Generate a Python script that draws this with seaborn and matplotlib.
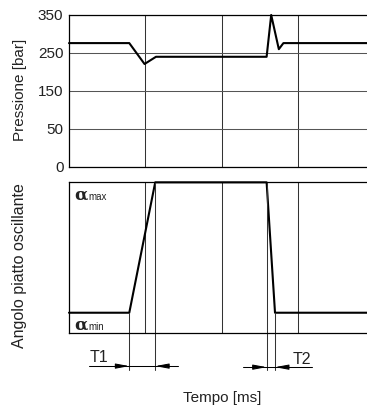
import numpy as np
import matplotlib
matplotlib.use("Agg")
import matplotlib.pyplot as plt
import matplotlib.transforms as mtransforms
import seaborn as sns

# pressure trace (bar) vs time (schematic units, one grid cell = 1)
t_press = [0, 0.79, 0.99, 1.14, 2.59, 2.65, 2.75, 2.81, 3.95]
pressure = [276, 276, 221, 240, 240, 350, 260, 276, 276]
press_ticks = [0, 50, 150, 250, 350]

# swash plate angle (0 = alpha min, 1 = alpha max)
t_angle = [0, 0.79, 1.13, 2.59, 2.70, 3.95]
angle = [0, 0, 1, 1, 0, 0]

t1 = (0.79, 1.13)
t2 = (2.59, 2.70)

sns.set_style("white")
plt.rcParams["font.family"] = ["Liberation Sans", "DejaVu Sans"]
ink = "#222222"

fig = plt.figure(figsize=(3.67, 4.07), dpi=100)
ax1 = fig.add_axes([0.188, 0.5897, 0.815, 0.3735])
ax2 = fig.add_axes([0.188, 0.181, 0.815, 0.371])

# top panel: tick labels are evenly spaced, so use a piecewise scale
pos = np.arange(len(press_ticks))
fwd = lambda v: np.interp(v, press_ticks, pos)
inv = lambda v: np.interp(v, pos, press_ticks)
ax1.set_yscale("function", functions=(fwd, inv))

sns.lineplot(x=t_press, y=pressure, ax=ax1, color="black", lw=1.5, clip_on=False)
ax1.set_ylim(0, 350)
ax1.set_yticks(press_ticks)
ax1.set_yticklabels([str(v) for v in press_ticks], fontsize=11, color=ink)

sns.lineplot(x=t_angle, y=angle, ax=ax2, color="black", lw=1.5, clip_on=False)
ax2.set_ylim(-0.158, 1.0)
ax2.set_yticks([])

for ax in (ax1, ax2):
    ax.set_xlim(0, 3.92)
    ax.set_xticks([1, 2, 3])
    ax.set_xticklabels([])
    ax.tick_params(length=0, pad=4)
    ax.grid(True, color="#333333", lw=0.75)
    ax.spines["right"].set_visible(False)
    for s in ("left", "bottom", "top"):
        ax.spines[s].set_color("black")
        ax.spines[s].set_linewidth(0.9)
    ax.set_xlabel("")
    ax.set_ylabel("")
ax1.grid(True, axis="y", color="#555555", lw=0.75)

trans = mtransforms.blended_transform_factory(ax2.transData, ax2.transAxes)

# alpha labels
for yy, sub in [(0.916, "max"), (0.055, "min")]:
    ax2.text(0.075, yy, "α", fontsize=12.5, fontweight="bold", family="DejaVu Serif",
             color=ink, va="center", ha="left", transform=trans)
    ax2.text(0.26, yy - 0.012, sub, fontsize=7, color=ink, va="center", ha="left",
             transform=trans)

# reference lines for the switching times, extending below the panel
lo = -0.243
ax2.axvline(t1[1], ymin=lo, ymax=1, color="#333333", lw=0.75, clip_on=False)
ax2.axvline(t2[0], ymin=lo, ymax=1, color="#333333", lw=0.75, clip_on=False)
ax2.axvline(t1[0], ymin=lo, ymax=0.136, color="#333333", lw=0.75, clip_on=False)
ax2.axvline(t2[1], ymin=lo, ymax=0.136, color="#333333", lw=0.75, clip_on=False)

# dimension lines with arrows
yd1, yd2 = -0.217, -0.224
ax2.plot([0.267, 1.425], [yd1, yd1], color="black", lw=0.75, transform=trans, clip_on=False)
ax2.plot([2.285, 3.19], [yd2, yd2], color="black", lw=0.75, transform=trans, clip_on=False)
arrow = dict(arrowstyle="-|>,head_length=0.8,head_width=0.15", color="black", lw=0.75,
             shrinkA=0, shrinkB=0)
for xa, xb, yy in [(t1[0] - 0.18, t1[0], yd1), (t1[1] + 0.18, t1[1], yd1),
                   (t2[0] - 0.18, t2[0], yd2), (t2[1] + 0.18, t2[1], yd2)]:
    ax2.annotate("", xy=(xb, yy), xytext=(xa, yy), xycoords=trans, textcoords=trans,
                 arrowprops=arrow, annotation_clip=False)
ax2.text(0.27, -0.163, "T1", fontsize=11.5, color=ink, ha="left", va="center", transform=trans)
ax2.text(2.93, -0.17, "T2", fontsize=11.5, color=ink, ha="left", va="center", transform=trans)

fig.text(0.054, 0.779, "Pressione [bar]", rotation=90, fontsize=11, color=ink,
         ha="center", va="center")
fig.text(0.054, 0.348, "Angolo piatto oscillante", rotation=90, fontsize=11.5, color=ink,
         ha="center", va="center")
fig.text(0.605, 0.022, "Tempo [ms]", fontsize=11, color=ink, ha="center", va="center")

fig.savefig("out.png", dpi=100)
